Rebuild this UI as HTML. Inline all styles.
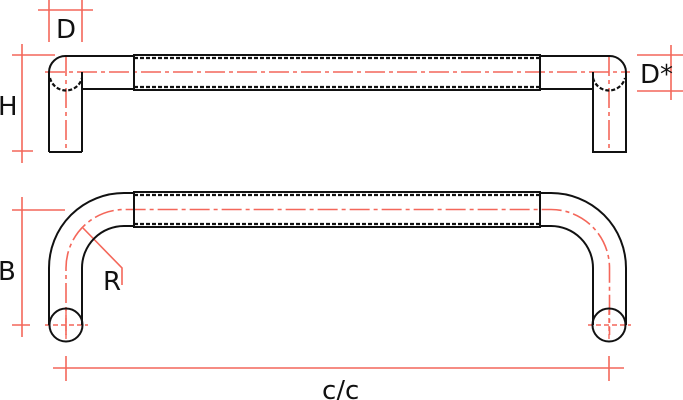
<!DOCTYPE html>
<html><head><style>
html,body{margin:0;padding:0;background:#fff;width:683px;height:400px;overflow:hidden}
svg{display:block}
text{font-family:"DejaVu Sans","Liberation Sans",sans-serif;font-size:26px;fill:#111}
</style></head><body>
<svg width="683" height="400" viewBox="0 0 683 400" xmlns="http://www.w3.org/2000/svg">
<g fill="none" stroke="#f4675a" stroke-width="1.6">
  <line x1="49" y1="0" x2="49" y2="42"/><line x1="82" y1="0" x2="82" y2="42"/>
  <line x1="38" y1="10" x2="93" y2="10"/>
  <line x1="22" y1="44" x2="22" y2="163"/>
  <line x1="12" y1="55" x2="55" y2="55"/><line x1="12" y1="151" x2="33" y2="151"/>
  <line x1="637" y1="55" x2="683" y2="55"/><line x1="637" y1="91" x2="683" y2="91"/>
  <line x1="671" y1="45" x2="671" y2="100"/>
  <line x1="22" y1="197" x2="22" y2="337"/>
  <line x1="12" y1="210" x2="65" y2="210"/>
  <line x1="12" y1="325" x2="30" y2="325"/>
  <line x1="53" y1="368" x2="624" y2="368"/>
  <line x1="66" y1="356" x2="66" y2="381"/><line x1="609" y1="356" x2="609" y2="381"/>
  <polyline points="83,228 122,268 122,285"/>
</g>
<g fill="none" stroke="#f4675a" stroke-width="1.6" stroke-dasharray="20,4,4,4">
  <line x1="45" y1="72" x2="630" y2="72"/>
  <line x1="66" y1="56" x2="66" y2="152"/>
  <line x1="609" y1="56" x2="609" y2="152"/>
  <path d="M66,335 L66,268 A58.5,58.5 0 0 1 124.5,209.5 L551,209.5 A58.5,58.5 0 0 1 609.5,268 L609.5,335"/>
</g>
<g fill="none" stroke="#f4675a" stroke-width="1.4" stroke-dasharray="5,3">
  <line x1="45" y1="325" x2="88" y2="325"/>
  <line x1="588" y1="325" x2="631" y2="325"/>
  <line x1="66" y1="310" x2="66" y2="342"/>
  <line x1="609" y1="310" x2="609" y2="342"/>
</g>
<g fill="none" stroke="#111" stroke-width="2">
  <path d="M49,152 L49,72 A16.5,16.5 0 0 1 66,56 L134,56"/>
  <path d="M82,152 L82,72"/>
  <line x1="49" y1="152" x2="82" y2="152"/>
  <line x1="82" y1="89" x2="134" y2="89"/>
  <rect x="134" y="55" width="406" height="35"/>
  <path d="M540,56 L609,56 A16.5,16.5 0 0 1 626,72 L626,152 L593,152 L593,89 L540,89"/>
  <path d="M593,152 L593,72"/>
  <path d="M49,325 L49,268 A75,75 0 0 1 124,193 L134,193"/>
  <path d="M82,325 L82,268 A42,42 0 0 1 124,226 L134,226"/>
  <rect x="134" y="192" width="406" height="35"/>
  <path d="M540,193 L551,193 A75,75 0 0 1 626,268 L626,325"/>
  <path d="M540,226 L551,226 A42,42 0 0 1 593,268 L593,325"/>
  <circle cx="66" cy="325" r="16.5"/>
  <circle cx="609" cy="325" r="16.5"/>
</g>
<g fill="none" stroke="#111" stroke-width="2.2" stroke-dasharray="4,2">
  <line x1="134" y1="58" x2="540" y2="58"/>
  <line x1="134" y1="87" x2="540" y2="87"/>
  <line x1="134" y1="195" x2="540" y2="195"/>
  <line x1="134" y1="224" x2="540" y2="224"/>
  <path d="M50,78 A16.5,16.5 0 0 0 82,78"/>
  <path d="M593,78 A16.5,16.5 0 0 0 625,78"/>
</g>
<text x="56" y="38">D</text>
<text x="-2" y="115">H</text>
<text x="640" y="83">D*</text>
<text x="-2" y="280">B</text>
<text x="103" y="290">R</text>
<text x="322" y="399">c/c</text>
</svg>
</body></html>
